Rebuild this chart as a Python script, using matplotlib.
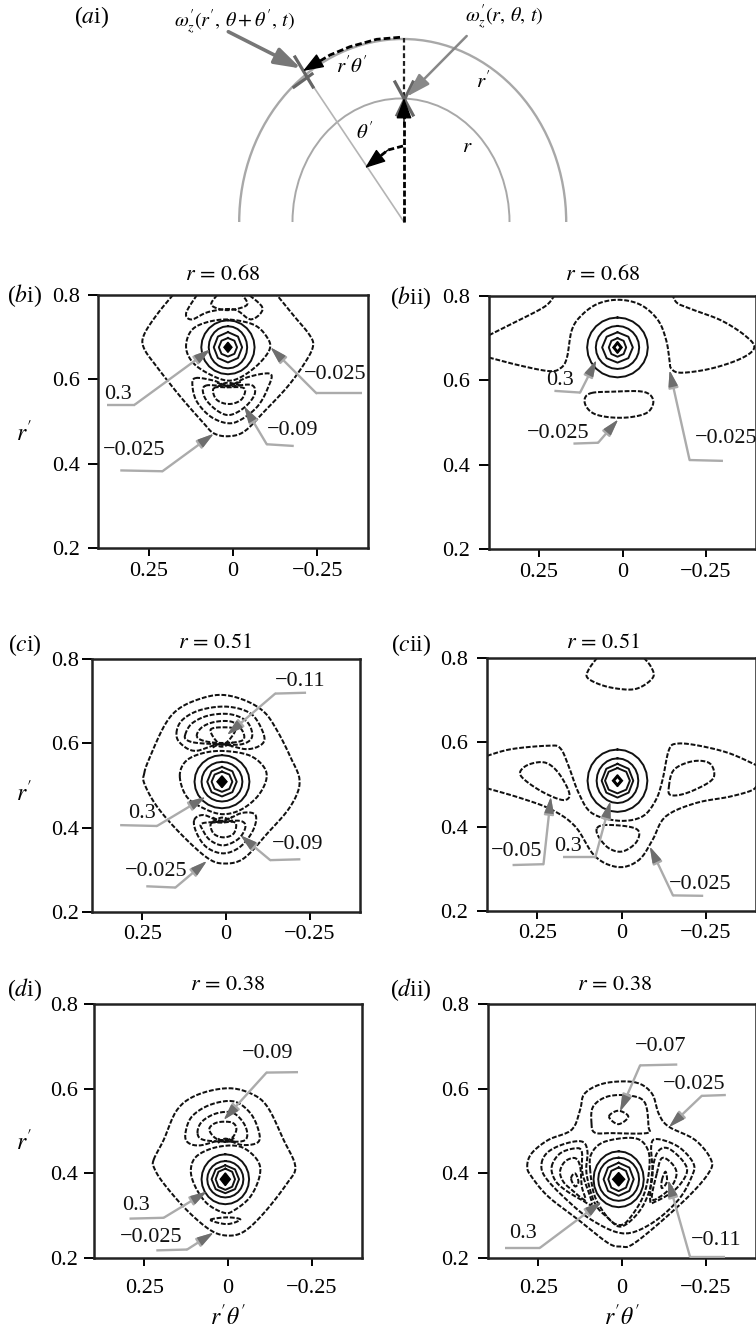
import numpy as np
import matplotlib
matplotlib.use("Agg")
import matplotlib.pyplot as plt
from matplotlib.patches import Arc, Polygon

plt.rcParams.update({
    "font.family": ["Liberation Serif", "DejaVu Serif"],
    "mathtext.fontset": "stix",
    "font.size": 16,
})

W, H = 756, 1330
XTICKS = [0.25, 0, -0.25]
XTICKLABELS = ["0.25", "0", "\u22120.25"]
YTICKS = [0.2, 0.4, 0.6, 0.8]
YTICKLABELS = ["0.2", "0.4", "0.6", "0.8"]

# ---- (bi) r = 0.68
BI_CENTER = (0.015, 0.676)
BI_RINGS = [(0.079, 0.064), (0.057, 0.050), (0.042, 0.036), (0.027, 0.022)]
BI_DIAMOND = (0.012, 0.012)
BI_CLOSED = [
    [(.139, .674), (.126, .713), (.087, .733), (.017, .742), (-.063, .729), (-.103, .697),
     (-.108, .670), (-.073, .634), (-.023, .605), (.017, .597), (.067, .611), (.117, .638)],
    [(.112, .603), (.057, .597), (.012, .585), (-.043, .605), (-.111, .613), (-.103, .579),
     (-.073, .536), (-.023, .504), (.017, .496), (.067, .512), (.107, .547), (.12, .583)],
    [(.082, .585), (.012, .583), (-.053, .587), (-.065, .567), (-.043, .540), (-.008, .520),
     (.022, .516), (.057, .532), (.085, .559)],
    [(.057, .579), (.017, .581), (-.033, .579), (-.028, .555), (-.003, .543), (.027, .543),
     (.052, .555)],
]
BI_OPEN = [
    [(.178, .80), (.226, .753), (.264, .705), (.264, .674), (.226, .630), (.156, .559),
     (.087, .496), (.057, .472), (.015, .465), (-.033, .476), (-.093, .524), (-.162, .583),
     (-.212, .638), (-.237, .678), (-.227, .705), (-.182, .749), (-.13, .80)],
    [(.107, .80), (.139, .757), (.122, .742), (.072, .76), (-.003, .766), (-.053, .742),
     (-.088, .768), (-.048, .80)],
    [(.047, .80), (.064, .776), (.017, .764), (-.041, .776), (-.028, .80)],
    [(.047, .582), (.017, .592), (-.023, .585)],
    [(.047, .592), (.017, .585), (-.023, .594)],
]
BI_NOTES = [
    ("0.3", (.341, .563), [(.373, .540), (.291, .540), (.067, .671)]),
    ("\u22120.025", (-.302, .611), [(-.381, .567), (-.247, .567), (-.111, .676)]),
    ("\u22120.09", (-.177, .479), [(-.18, .442), (-.10, .446), (-.033, .536)]),
    ("\u22120.025", (.293, .431), [(.334, .384), (.209, .382), (.057, .471)]),
]

# ---- (bii) r = 0.68
BII_CENTER = (0.015, 0.678)
BII_RINGS = [(0.091, 0.071), (0.065, 0.051), (0.046, 0.036), (0.026, 0.022)]
BII_DIAMOND = (0.014, 0.014)
BII_CLOSED = [
    [(.093, .570), (.033, .573), (-.062, .573), (-.092, .553), (-.077, .525), (-.027, .513),
     (.033, .512), (.083, .520), (.108, .537), (.113, .557)],
]
BII_OPEN = [
    [(.40, .707), (.332, .734), (.252, .766), (.222, .782), (.205, .80)],
    [(.40, .654), (.312, .636), (.222, .622), (.187, .628), (.167, .652), (.152, .719),
     (.123, .754), (.073, .782), (.008, .791), (-.057, .778), (-.107, .742), (-.131, .695),
     (-.141, .648), (-.146, .628), (-.176, .618), (-.266, .628), (-.356, .652), (-.395, .678),
     (-.366, .707), (-.296, .742), (-.216, .766), (-.166, .782), (-.151, .80)],
]
BII_NOTES = [
    ("0.3", (.187, .600), [(.204, .575), (.127, .571), (.078, .648)]),
    ("\u22120.025", (.192, .474), [(.147, .450), (.073, .452), (.013, .507)]),
    ("\u22120.025", (-.311, .462), [(-.301, .409), (-.201, .411), (-.141, .624)]),
]

# ---- (ci) r = 0.51
CI_CENTER = (0.012, 0.509)
CI_RINGS = [(0.082, 0.063), (0.061, 0.047), (0.044, 0.035), (0.031, 0.024)]
CI_DIAMOND = (0.015, 0.014)
CI_CLOSED = [
    [(.244, .529), (.231, .560), (.186, .639), (.146, .679), (.087, .703), (.017, .715),
     (-.053, .703), (-.113, .675), (-.152, .631), (-.192, .568), (-.22, .509), (-.192, .450),
     (-.123, .386), (-.053, .327), (.007, .315), (.057, .329), (.136, .386), (.206, .450),
     (.244, .505)],
    [(.138, .521), (.122, .556), (.077, .575), (.012, .582), (-.068, .572), (-.113, .544),
     (-.12, .513), (-.093, .473), (-.043, .442), (.012, .432), (.067, .446), (.117, .473)],
    [(.148, .624), (.131, .655), (.077, .679), (-.003, .687), (-.073, .671), (-.108, .631),
     (-.111, .601), (-.063, .586), (.017, .598), (.092, .582), (.136, .600)],
    [(.122, .620), (.102, .647), (.052, .666), (-.013, .669), (-.063, .651), (-.078, .616),
     (-.048, .598), (.017, .598), (.087, .601), (.117, .608)],
    [(.087, .616), (.072, .638), (.032, .651), (-.018, .651), (-.048, .631), (-.051, .608),
     (-.003, .601), (.057, .604)],
    [(.047, .631), (.007, .638), (-.028, .631), (.012, .596)],
    [(.095, .418), (.067, .430), (.012, .416), (-.048, .435), (-.088, .430), (-.081, .394),
     (-.043, .355), (.007, .339), (.057, .353), (.087, .386)],
    [(.072, .410), (.012, .414), (-.043, .416), (-.058, .402), (-.038, .374), (.007, .358),
     (.047, .370), (.069, .394)],
    [(.045, .410), (.012, .412), (-.028, .412), (-.023, .386), (.007, .377), (.037, .386)],
]
CI_OPEN = [
    [(.04, .59), (.012, .60), (-.02, .592)],
    [(.04, .60), (.012, .592), (-.02, .602)],
    [(.04, .414), (.012, .424), (-.02, .416)],
    [(.04, .424), (.012, .416), (-.02, .426)],
]
CI_NOTES = [
    ("\u22120.11", (-.222, .746), [(-.239, .720), (-.147, .718), (-.003, .620)]),
    ("0.3", (.251, .434), [(.316, .406), (.206, .404), (.061, .473)]),
    ("\u22120.09", (-.215, .361), [(-.222, .325), (-.132, .323), (-.043, .382)]),
    ("\u22120.025", (.209, .295), [(.238, .261), (.151, .258), (.057, .321)]),
]

# ---- (cii) r = 0.51
CII_CENTER = (0.012, 0.509)
CII_RINGS = [(0.089, 0.074), (0.062, 0.053), (0.047, 0.040), (0.037, 0.030)]
CII_DIAMOND = (0.015, 0.014)
CII_CLOSED = [
    [(.302, .528), (.277, .547), (.227, .552), (.187, .527), (.155, .479), (.172, .463),
     (.227, .479), (.282, .507)],
    [(-.141, .495), (-.156, .535), (-.211, .555), (-.261, .551), (-.276, .523), (-.256, .503),
     (-.191, .479), (-.146, .475)],
    [(.073, .396), (.048, .404), (-.022, .400), (-.052, .388), (-.042, .361), (-.002, .341),
     (.038, .349), (.068, .376)],
]
CII_OPEN = [
    [(.073, .80), (.098, .772), (.10, .752), (.048, .733), (-.022, .725), (-.062, .733),
     (-.095, .756), (-.087, .78), (-.067, .80)],
    [(.40, .568), (.327, .584), (.217, .592), (.182, .586), (.157, .543), (.127, .479),
     (.088, .432), (.008, .414), (-.062, .424), (-.102, .463), (-.122, .511), (-.141, .582),
     (-.166, .597), (-.231, .592), (-.321, .574), (-.403, .545)],
    [(.40, .491), (.297, .467), (.207, .440), (.137, .400), (.078, .329), (.008, .304),
     (-.052, .321), (-.092, .368), (-.131, .424), (-.221, .456), (-.321, .471), (-.39, .487),
     (-.403, .503)],
]
CII_NOTES = [
    ("\u22120.05", (.312, .341), [(.324, .309), (.232, .311), (.21, .471)]),
    ("0.3", (.159, .353), [(.174, .327), (.078, .327), (.033, .460)]),
    ("\u22120.025", (-.233, .264), [(-.243, .236), (-.153, .237), (-.084, .353)]),
]

# ---- (di) r = 0.38
DI_CENTER = (0.008, 0.386)
DI_RINGS = [(0.071, 0.059), (0.054, 0.043), (0.041, 0.033), (0.029, 0.025)]
DI_DIAMOND = (0.015, 0.015)
DI_CLOSED = [
    [(.222, .432), (.192, .479), (.152, .550), (.093, .585), (.003, .601), (-.067, .589),
     (-.117, .558), (-.166, .479), (-.201, .416), (-.176, .376), (-.107, .306), (-.047, .262),
     (.003, .253), (.053, .266), (.123, .313), (.192, .376), (.22, .412)],
    [(.111, .408), (.093, .441), (.033, .462), (-.037, .463), (-.087, .432), (-.095, .396),
     (-.067, .345), (-.017, .312), (.013, .307), (.063, .329), (.098, .369)],
    [(.127, .495), (.108, .534), (.053, .562), (-.017, .570), (-.067, .542), (-.092, .499),
     (-.089, .473), (-.042, .467), (.013, .479), (.083, .466), (.12, .473)],
    [(.091, .495), (.078, .522), (.033, .542), (-.017, .542), (-.052, .511), (-.052, .479),
     (.003, .475), (.073, .479)],
    [(.056, .504), (.033, .520), (-.012, .520), (-.025, .503), (-.007, .481), (.033, .481)],
    [(.053, .290), (.003, .296), (-.037, .291), (.003, .280)],
]
DI_OPEN = [
    [(.03, .472), (.008, .482), (-.02, .474)],
    [(.03, .482), (.008, .474), (-.02, .484)],
]
DI_NOTES = [
    ("\u22120.09", (-.117, .682), [(-.209, .639), (-.115, .638), (.013, .526)]),
    ("0.3", (.274, .325), [(.294, .293), (.192, .295), (.063, .357)]),
    ("\u22120.025", (.229, .248), [(.214, .218), (.122, .220), (.043, .260)]),
]

# ---- (dii) r = 0.38
DII_CENTER = (0.010, 0.386)
DII_RINGS = [(0.075, 0.066), (0.061, 0.051), (0.045, 0.039), (0.031, 0.028)]
DII_DIAMOND = (0.018, 0.016)
DII_CLOSED = [
    [(.283, .416), (.27, .447), (.22, .479), (.15, .503), (.125, .55), (.111, .589), (.051, .613),
     (-.039, .615), (-.089, .589), (-.109, .542), (-.138, .511), (-.218, .479), (-.266, .432),
     (-.258, .400), (-.198, .345), (-.099, .274), (-.029, .231), (.001, .227), (.041, .235),
     (.13, .290), (.22, .345), (.27, .392)],
    [(.091, .518), (.086, .558), (.041, .582), (-.029, .583), (-.069, .566), (-.079, .511),
     (-.074, .495), (.031, .495), (.081, .496)],
    [(.039, .534), (.011, .548), (-.019, .534), (.011, .516)],
    [(.24, .424), (.22, .451), (.17, .470), (.119, .475), (.103, .451), (.106, .400), (.081, .329),
     (.041, .294), (.006, .274), (-.034, .294), (-.069, .333), (-.091, .392), (-.087, .463),
     (-.104, .481), (-.168, .463), (-.213, .424), (-.208, .392), (-.168, .337), (-.089, .282),
     (-.004, .258), (.091, .290), (.17, .341), (.23, .392)],
    [(.095, .408), (.091, .447), (.051, .475), (-.039, .483), (-.077, .456), (-.081, .408),
     (-.063, .345), (-.019, .290), (.009, .278), (.041, .294), (.081, .345)],
    [(.21, .416), (.185, .447), (.14, .459), (.12, .451), (.118, .400), (.09, .329), (.12, .337),
     (.17, .361), (.20, .384)],
    [(.185, .404), (.17, .428), (.14, .436), (.125, .416), (.12, .369), (.11, .337), (.15, .361),
     (.175, .380)],
    [(.152, .388), (.14, .400), (.13, .380), (.14, .369)],
    [(-.091, .408), (-.107, .451), (-.138, .459), (-.183, .428), (-.193, .400), (-.158, .361),
     (-.099, .333), (-.084, .337)],
    [(-.104, .400), (-.119, .436), (-.148, .424), (-.163, .400), (-.148, .369), (-.114, .345),
     (-.089, .341)],
    [(-.119, .384), (-.13, .404), (-.134, .380), (-.119, .365)],
]
DII_OPEN = []
DII_NOTES = [
    ("\u22120.07", (-.116, .700), [(-.165, .657), (-.054, .655), (.006, .546)]),
    ("\u22120.025", (-.215, .609), [(-.31, .585), (-.238, .583), (-.14, .509)]),
    ("0.3", (.297, .258), [(.35, .224), (.245, .224), (.061, .333)]),
    ("\u22120.11", (-.281, .242), [(-.308, .203), (-.203, .203), (-.138, .384)]),
]

TITLE_68 = r"$r\,=\,0.68$"
TITLE_51 = r"$r\,=\,0.51$"
TITLE_38 = r"$r\,=\,0.38$"

# label, title, box (left, right, top, bottom px), label pos, title pos, r' pos,
# y tick pad, x tick pad (px), hollow centre, then contour data
PANELS = [
    ("($b$i)", TITLE_68, (98, 368, 295, 548), (25, 296), (223, 275), (24, 433), 8, 6, False,
     BI_CENTER, BI_RINGS, BI_DIAMOND, BI_CLOSED, BI_OPEN, BI_NOTES),
    ("($b$ii)", TITLE_68, (489, 756, 296, 549), (411, 298), (603, 275), None, 9, 6, True,
     BII_CENTER, BII_RINGS, BII_DIAMOND, BII_CLOSED, BII_OPEN, BII_NOTES),
    ("($c$i)", TITLE_51, (92, 360, 659, 912), (25, 645), (215, 643), (24, 793), 3, 5, False,
     CI_CENTER, CI_RINGS, CI_DIAMOND, CI_CLOSED, CI_OPEN, CI_NOTES),
    ("($c$ii)", TITLE_51, (487, 756, 658, 911), (411, 645), (603, 643), None, 9, 5, True,
     CII_CENTER, CII_RINGS, CII_DIAMOND, CII_CLOSED, CII_OPEN, CII_NOTES),
    ("($d$i)", TITLE_38, (94, 362, 1004, 1258), (25, 990), (228, 986), (24, 1142), 6, 13, False,
     DI_CENTER, DI_RINGS, DI_DIAMOND, DI_CLOSED, DI_OPEN, DI_NOTES),
    ("($d$ii)", TITLE_38, (488, 756, 1004, 1258), (411, 990), (615, 986), None, 9, 13, False,
     DII_CENTER, DII_RINGS, DII_DIAMOND, DII_CLOSED, DII_OPEN, DII_NOTES),
]

INK = "#111111"
LEADER = "#ababab"
HEAD = "#6e6e6e"
DASH = (0, (2.4, 0.9))
PT = 0.72  # points per pixel at dpi 100


def smooth(pts, closed, steps=6):
    # catmull-rom through the points
    p = np.asarray(pts, dtype=float)
    if closed:
        p = np.vstack([p[-1], p, p[0], p[1]])
    else:
        p = np.vstack([p[0], p, p[-1]])
    out = []
    t = np.linspace(0, 1, steps, endpoint=False)[:, None]
    for i in range(1, len(p) - 2):
        a, b, c, d = p[i - 1], p[i], p[i + 1], p[i + 2]
        out.append(0.5 * (2 * b + (c - a) * t + (2 * a - 5 * b + 4 * c - d) * t ** 2
                          + (3 * b - a - 3 * c + d) * t ** 3))
    out.append(p[-2][None, :])
    return np.vstack(out)


def ring_xy(center, hw, hh, n):
    t = np.linspace(0, 2 * np.pi, n + 1)
    return center[0] + hw * np.sin(t), center[1] + hh * np.cos(t)


def fig_text(fig, x, y, s, **kw):
    fig.text(x / W, 1 - y / H, s, ha="center", va="center", **kw)


def draw_panel(fig, spec):
    label, title, box, label_at, title_at, ylabel_at, ypad, xpad, hollow, \
        center, rings, diamond, closed, opened, notes = spec
    l, r, t, b = box
    ax = fig.add_axes([l / W, 1 - b / H, (r - l) / W, (b - t) / H])
    ax.set_xlim(0.4, -0.4)
    ax.set_ylim(0.2, 0.8)
    ax.set_xticks(XTICKS)
    ax.set_xticklabels(XTICKLABELS)
    ax.set_yticks(YTICKS)
    ax.set_yticklabels(YTICKLABELS)
    ax.tick_params(axis="y", length=10 * PT, width=1.4, pad=ypad * PT, labelsize=16)
    ax.tick_params(axis="x", length=8 * PT, width=1.4, pad=xpad * PT, labelsize=16)
    for s in ax.spines.values():
        s.set_linewidth(1.8)
        s.set_color("#222222")

    for c in closed:
        xy = smooth(c, True)
        ax.plot(xy[:, 0], xy[:, 1], color=INK, lw=1.45, ls=DASH)
    for c in opened:
        xy = smooth(c, False)
        ax.plot(xy[:, 0], xy[:, 1], color=INK, lw=1.45, ls=DASH)

    for i, (hw, hh) in enumerate(rings):
        x, y = ring_xy(center, hw, hh, 24 if i < 2 else 8)
        ax.plot(x, y, color=INK, lw=1.4)
    x, y = ring_xy(center, diamond[0], diamond[1], 4)
    ax.add_patch(Polygon(np.column_stack([x, y]), closed=True, fc="black", ec="black", lw=1, zorder=3))
    if hollow:
        x, y = ring_xy(center, diamond[0] * 0.4, diamond[1] * 0.4, 4)
        ax.add_patch(Polygon(np.column_stack([x, y]), closed=True, fc="white", ec="none", zorder=3))

    for text, pos, path in notes:
        px = [p[0] for p in path]
        py = [p[1] for p in path]
        ax.plot(px[:2], py[:2], color=LEADER, lw=1.7, zorder=4, solid_capstyle="butt")
        ax.annotate("", xy=path[2], xytext=path[1], zorder=4,
                    arrowprops=dict(arrowstyle="-|>,head_width=0.18,head_length=0.62",
                                    color=LEADER, lw=1.7, shrinkA=0, shrinkB=0))
        ax.annotate("", xy=path[2],
                    xytext=(path[2][0] + 0.12 * (path[1][0] - path[2][0]),
                            path[2][1] + 0.12 * (path[1][1] - path[2][1])),
                    zorder=5,
                    arrowprops=dict(arrowstyle="-|>,head_width=0.18,head_length=0.62",
                                    color=HEAD, lw=1, shrinkA=0, shrinkB=0))
        ax.text(pos[0], pos[1], text, ha="center", va="center", fontsize=16, color="#111111", zorder=6)

    fig_text(fig, label_at[0], label_at[1], label, fontsize=17)
    fig_text(fig, title_at[0], title_at[1], title, fontsize=16)
    if ylabel_at:
        fig_text(fig, ylabel_at[0], ylabel_at[1], "$r'$", fontsize=17)


def draw_schematic(fig):
    # axes in reference pixels, this panel has no scale of its own
    ax = fig.add_axes([0, 1 - 240 / H, 1, 240 / H])
    ax.set_xlim(0, W)
    ax.set_ylim(240, 0)
    ax.axis("off")

    ax.add_patch(Arc((402.7, 222), 327, 366, theta1=180, theta2=360, color="#a8a8a8", lw=1.7))
    ax.add_patch(Arc((401, 222), 217, 247, theta1=180, theta2=360, color="#a8a8a8", lw=1.4))
    ax.plot([404, 303], [222, 71], color="#b4b4b4", lw=1.2)

    ax.plot([404, 404], [222, 108], color="black", lw=2, ls=(0, (2.2, 0.9)))
    ax.plot([404, 404], [97, 38], color="#222222", lw=1.6, ls=(0, (2.2, 1.3)))
    arc_x = [400, 376.7, 350, 330, 312]
    arc_y = [37.3, 39.3, 46.7, 55, 65.8]
    ax.plot(arc_x, arc_y, color="black", lw=2, ls=(0, (2.4, 1.1)))
    ax.plot([403, 388, 376], [146, 150, 159.5], color="black", lw=2, ls=(0, (2.2, 1.1)))

    for start, end in [((388, 150), (365, 168)), ((404, 125), (404, 98)), ((318, 62), (303, 71))]:
        ax.annotate("", xy=end, xytext=start, zorder=5,
                    arrowprops=dict(arrowstyle="-|>,head_width=0.3,head_length=0.8",
                                    color="black", lw=1, shrinkA=0, shrinkB=0))

    for seg in [((295, 57), (313, 87)), ((294, 87), (312, 74)),
                ((395, 82), (413, 115)), ((413, 82), (397, 115))]:
        ax.plot([seg[0][0], seg[1][0]], [seg[0][1], seg[1][1]], color="#666666", lw=2.3, zorder=3)

    ax.annotate("", xy=(301, 68.5), xytext=(228.3, 31.7), zorder=4,
                arrowprops=dict(arrowstyle="-|>,head_width=0.32,head_length=1.0",
                                color="#777777", lw=2.6, shrinkA=0, shrinkB=0))
    ax.annotate("", xy=(406.7, 96.7), xytext=(466.7, 36), zorder=4,
                arrowprops=dict(arrowstyle="-|>,head_width=0.28,head_length=0.9",
                                color="#888888", lw=1.8, shrinkA=0, shrinkB=0))

    ax.text(92, 17, "($a$i)", ha="center", va="center", fontsize=17)
    ax.text(235, 22, r"$\omega_z'(r',\,\theta + \theta',\,t)$", ha="center", va="center", fontsize=14.5)
    ax.text(504, 17, r"$\omega_z'(r,\,\theta,\,t)$", ha="center", va="center", fontsize=14.5)
    ax.text(352, 67, r"$r'\theta'$", ha="center", va="center", fontsize=15)
    ax.text(483, 82, "$r'$", ha="center", va="center", fontsize=15)
    ax.text(365, 133, r"$\theta'$", ha="center", va="center", fontsize=15)
    ax.text(467, 148, "$r$", ha="center", va="center", fontsize=15)


fig = plt.figure(figsize=(W / 100, H / 100), dpi=100)
draw_schematic(fig)
for spec in PANELS:
    draw_panel(fig, spec)
fig_text(fig, 228, 1317, r"$r'\theta'$", fontsize=17)
fig_text(fig, 622, 1317, r"$r'\theta'$", fontsize=17)
fig.savefig("out.png", dpi=100)
